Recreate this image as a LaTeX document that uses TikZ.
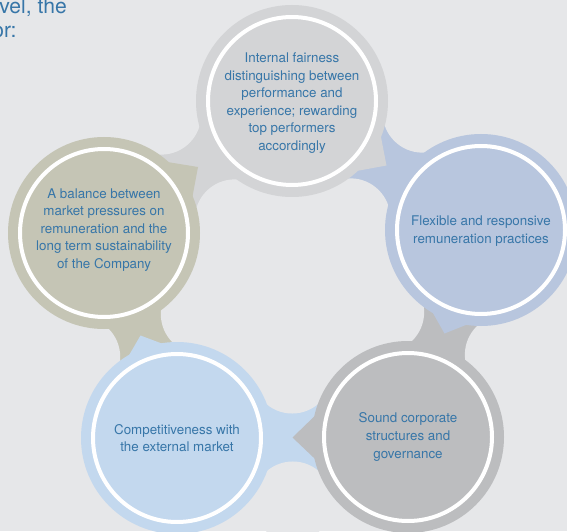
\documentclass[tikz,border=0pt]{standalone}
\usepackage{fontspec}
\setmainfont{TeX Gyre Heros}
\usetikzlibrary{calc}
\definecolor{bgcol}{RGB}{230,231,233}
\definecolor{colT}{RGB}{211,212,214}
\definecolor{colR}{RGB}{184,198,222}
\definecolor{colBR}{RGB}{188,189,191}
\definecolor{colBL}{RGB}{195,216,238}
\definecolor{colL}{RGB}{197,197,181}
\definecolor{txtcol}{RGB}{55,118,168}
\tikzset{
  ring/.style={draw=white, line width=.08cm},
  bubbletext/.style={text=txtcol, align=center, inner sep=0, font=\fontsize{7.6}{10}\selectfont},
  introtext/.style={text=txtcol, anchor=base west, inner sep=0, font=\fontsize{12}{14}\selectfont}
}
\begin{document}
\begin{tikzpicture}[x=.02cm,y=.02cm]
            \useasboundingbox (0,0) rectangle (567,531);
            \clip (0,0) rectangle (567,531);
            \fill[bgcol] (0,0) rectangle (567,531);
            \node[introtext] (introa) at (-1,517) {vel, the};
            \node[introtext] (introb) at (-8,493) {or:};
            % centres of the five circles
            \coordinate (T) at (292,430);
            \coordinate (R) at (481,301);
            \coordinate (BR) at (408,94);
            \coordinate (BL) at (177,93);
            \coordinate (L) at (104,298);
            % bridges
            \foreach \a/\b/\c in {T/L/colT, L/BL/colL, BL/BR/colBL, BR/R/colBR, R/T/colR}{
                \draw[\c, line width=1.8cm] (\a) -- (\b);
                \coordinate (m) at ($(\a)!.5!(\b)$);
                \fill[bgcol] ($(m)!1.28cm!90:(\b)$) circle[radius=40];
                \fill[bgcol] ($(m)!1.28cm!-90:(\b)$) circle[radius=40];
            }
            \foreach \p/\c in {T/colT, R/colR, BR/colBR, BL/colBL, L/colL}
                \fill[\c] (\p) circle[radius=96];
            % tips
            \foreach \a/\b/\c in {T/L/colL, L/BL/colBL, BL/BR/colBR, BR/R/colR, R/T/colT}
                \fill[\c] ($(\a)!.5!(\b)$) -- ($(\b)!1.74cm!23:(\a)$) -- ($(\b)!1.74cm!-23:(\a)$) -- cycle;
            \foreach \p in {T,R,BR,BL,L}
                \draw[ring] (\p) circle[radius=84];
            \node[bubbletext] (fair) at (292,428) {Internal fairness\\distinguishing between\\performance and\\experience; rewarding\\top performers\\accordingly};
            \node[bubbletext] (flex) at (481,300) {Flexible and responsive\\remuneration practices};
            \node[bubbletext] (sound) at (408,94) {Sound corporate\\structures and\\governance};
            \node[bubbletext] (comp) at (177,93) {Competitiveness with\\the external market};
            \node[bubbletext] (bal) at (104,301) {A balance between\\market pressures on\\remuneration and the\\long term sustainability\\of the Company};
        \end{tikzpicture}
\end{document}
